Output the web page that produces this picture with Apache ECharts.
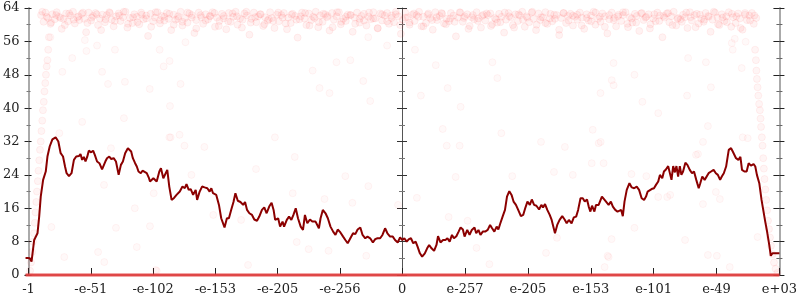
<!DOCTYPE html>
<html>
<head>
<meta charset="utf-8">
<script src="https://cdn.jsdelivr.net/npm/echarts@6/dist/echarts.min.js"></script>
<style>html,body{margin:0;padding:0;background:#fff}#c{width:800px;height:300px}</style>
</head>
<body>
<div id="c"></div>
<script>
// ---- data ----
const xTickVals = [0, 0.995, 1.99, 2.985, 3.98, 4.975, 5.97, 6.975, 7.98, 8.985, 9.99, 10.995, 12];
const xTickLabels = ["-1", "-e-51", "-e-102", "-e-153", "-e-205", "-e-256", "0", "e-257", "e-205", "e-153", "e-101", "e-49", "e+03"];
const yTicks = [0, 8, 16, 24, 32, 40, 48, 56, 64];

const meanLine = [[-0.048,4.1],[-0.016,4.1],[0.02,4.0],[0.048,3.2],[0.09,8.4],[0.143,10.0],[0.17,14.0],[0.195,18.8],[0.233,22.8],[0.275,24.8],[0.302,28.4],[0.338,30.8],[0.381,32.5],[0.433,33.0],[0.476,32.0],[0.513,29.2],[0.551,28.4],[0.583,26.0],[0.608,24.4],[0.646,23.7],[0.687,24.4],[0.725,27.6],[0.762,28.4],[0.805,28.5],[0.83,29.0],[0.857,27.6],[0.884,28.3],[0.91,27.2],[0.937,28.3],[0.963,29.8],[1.0,29.4],[1.032,29.8],[1.059,28.8],[1.095,27.2],[1.132,26.8],[1.175,25.3],[1.202,25.1],[1.227,27.2],[1.254,28.0],[1.29,28.4],[1.322,27.8],[1.36,28.0],[1.397,27.2],[1.44,24.0],[1.476,26.4],[1.508,27.2],[1.544,29.2],[1.587,30.4],[1.614,30.8],[1.64,29.6],[1.667,28.0],[1.703,26.8],[1.73,26.0],[1.757,24.8],[1.794,24.4],[1.821,25.0],[1.852,24.6],[1.889,24.4],[1.925,23.2],[1.941,22.4],[1.995,23.2],[2.048,22.4],[2.09,24.8],[2.116,25.6],[2.154,23.2],[2.179,22.8],[2.217,25.2],[2.249,21.2],[2.286,18.0],[2.322,18.4],[2.365,19.2],[2.417,20.0],[2.46,21.2],[2.497,20.8],[2.524,21.8],[2.56,20.4],[2.592,20.6],[2.63,19.2],[2.671,20.4],[2.694,18.0],[2.735,20.0],[2.773,21.2],[2.814,21.0],[2.857,20.8],[2.894,20.0],[2.921,20.8],[2.948,19.6],[3.0,19.2],[3.043,16.8],[3.079,13.6],[3.106,13.2],[3.132,11.4],[3.17,13.6],[3.202,13.6],[3.238,15.6],[3.275,17.5],[3.306,19.6],[3.344,17.8],[3.386,17.5],[3.43,16.8],[3.46,17.5],[3.492,15.6],[3.529,14.8],[3.571,14.4],[3.608,13.3],[3.651,13.0],[3.687,14.0],[3.73,15.6],[3.767,16.2],[3.805,14.8],[3.846,16.4],[3.884,17.3],[3.916,15.6],[3.941,13.2],[3.989,13.6],[4.02,11.6],[4.059,12.8],[4.084,11.6],[4.127,13.2],[4.163,14.0],[4.2,13.2],[4.233,14.4],[4.27,16.0],[4.306,13.6],[4.349,11.6],[4.386,10.8],[4.417,14.4],[4.455,12.4],[4.497,13.3],[4.535,12.8],[4.587,12.8],[4.64,11.2],[4.667,13.6],[4.703,15.6],[4.746,14.8],[4.783,13.6],[4.825,11.6],[4.868,10.4],[4.905,9.6],[4.941,10.9],[4.984,10.2],[5.027,9.2],[5.063,8.4],[5.1,7.6],[5.143,8.8],[5.186,10.0],[5.222,9.8],[5.259,10.9],[5.302,11.4],[5.338,9.6],[5.381,8.8],[5.417,9.2],[5.46,8.8],[5.503,7.8],[5.54,8.6],[5.576,8.8],[5.619,8.8],[5.656,9.6],[5.698,11.2],[5.735,10.0],[5.778,9.2],[5.821,9.2],[5.857,8.4],[5.9,7.8],[5.937,9.0],[5.973,8.4],[6.005,8.8],[6.043,8.0],[6.079,8.6],[6.111,8.8],[6.148,7.6],[6.186,8.0],[6.217,6.8],[6.254,5.2],[6.29,4.4],[6.333,5.2],[6.37,6.4],[6.402,7.2],[6.44,6.4],[6.481,5.8],[6.519,7.2],[6.544,9.3],[6.583,7.8],[6.624,8.4],[6.662,8.4],[6.694,8.8],[6.73,8.0],[6.767,9.6],[6.798,8.8],[6.837,9.3],[6.873,10.4],[6.905,11.4],[6.941,10.9],[6.968,9.2],[7.011,10.8],[7.048,9.6],[7.084,10.8],[7.127,11.4],[7.154,10.0],[7.19,10.8],[7.222,9.6],[7.259,10.4],[7.297,10.4],[7.338,10.8],[7.376,12.0],[7.408,11.2],[7.444,10.4],[7.481,11.6],[7.508,10.9],[7.54,12.4],[7.576,14.0],[7.614,15.6],[7.646,18.8],[7.683,20.1],[7.719,19.2],[7.751,17.6],[7.789,16.8],[7.825,15.6],[7.868,14.1],[7.905,14.4],[7.937,16.0],[7.973,17.6],[8.011,16.8],[8.043,18.1],[8.079,16.8],[8.116,16.6],[8.159,15.7],[8.195,16.8],[8.222,16.2],[8.254,17.0],[8.29,15.6],[8.329,14.4],[8.36,13.2],[8.386,12.8],[8.413,10.0],[8.449,12.0],[8.487,13.2],[8.529,14.1],[8.567,13.3],[8.6,12.4],[8.635,13.2],[8.678,12.4],[8.714,13.8],[8.751,14.0],[8.783,15.6],[8.821,18.4],[8.857,18.4],[8.889,17.6],[8.925,18.1],[8.952,16.4],[8.979,15.2],[9.005,16.6],[9.043,15.2],[9.068,16.8],[9.111,16.8],[9.138,17.2],[9.163,18.8],[9.206,18.0],[9.233,18.4],[9.27,16.8],[9.306,17.6],[9.338,16.4],[9.376,15.6],[9.413,15.2],[9.44,14.8],[9.471,15.6],[9.497,14.1],[9.524,17.6],[9.56,20.4],[9.603,22.0],[9.64,21.0],[9.678,20.8],[9.719,21.2],[9.757,20.4],[9.798,18.4],[9.837,18.0],[9.868,18.8],[9.894,20.0],[9.921,19.8],[9.957,20.6],[9.995,20.8],[10.027,21.6],[10.063,22.4],[10.09,24.0],[10.127,23.2],[10.154,24.8],[10.186,25.3],[10.222,26.1],[10.249,26.4],[10.275,22.8],[10.302,26.1],[10.329,24.6],[10.354,26.1],[10.381,23.6],[10.408,26.1],[10.433,24.0],[10.46,24.8],[10.497,26.9],[10.529,26.4],[10.567,25.2],[10.603,24.4],[10.635,24.8],[10.671,22.8],[10.71,20.8],[10.735,22.0],[10.767,23.6],[10.805,22.8],[10.83,22.4],[10.868,24.4],[10.908,24.8],[10.948,25.2],[10.984,24.4],[11.016,24.0],[11.052,22.8],[11.079,23.6],[11.111,24.4],[11.148,26.0],[11.19,30.0],[11.227,30.4],[11.254,29.6],[11.281,30.0],[11.306,28.0],[11.344,27.6],[11.376,28.3],[11.402,25.2],[11.44,24.8],[11.476,24.8],[11.508,26.8],[11.544,26.2],[11.587,26.6],[11.614,26.0],[11.64,24.0],[11.678,22.0],[11.714,18.0],[11.741,15.6],[11.773,12.8],[11.798,10.8],[11.837,7.2],[11.862,4.6],[11.889,5.2],[11.941,5.2],[12.0,5.2]];

const topBand = [[0.20,62.3],[0.24,60.7],[0.27,62.9],[0.31,61.6],[0.35,60.2],[0.38,62.5],[0.42,61.3],[0.45,63.0],[0.49,61.9],[0.53,59.0],[0.56,61.4],[0.60,62.7],[0.63,60.8],[0.67,62.2],[0.71,63.1],[0.74,60.3],[0.78,61.8],[0.81,61.1],[0.85,62.6],[0.89,61.4],[0.92,58.2],[0.96,62.9],[1.00,61.0],[1.03,62.1],[1.07,62.8],[1.11,59.9],[1.14,61.5],[1.18,62.4],[1.22,60.6],[1.25,62.3],[1.29,63.0],[1.33,61.2],[1.36,59.6],[1.40,62.0],[1.44,62.7],[1.47,60.9],[1.51,61.8],[1.55,63.1],[1.58,59.3],[1.62,61.6],[1.66,60.4],[1.69,62.5],[1.73,61.9],[1.77,60.1],[1.80,62.9],[1.84,61.3],[1.88,62.2],[1.91,57.3],[1.95,62.6],[1.99,60.8],[2.02,61.7],[2.06,63.0],[2.10,60.3],[2.13,62.1],[2.17,61.0],[2.21,62.8],[2.24,61.4],[2.28,58.7],[2.32,62.4],[2.35,61.2],[2.39,62.0],[2.43,63.1],[2.46,59.8],[2.50,61.6],[2.54,60.5],[2.57,62.7],[2.61,62.3],[2.65,58.0],[2.68,61.1],[2.72,62.9],[2.76,61.8],[2.79,60.2],[2.83,62.5],[2.87,61.3],[2.90,62.0],[2.94,63.0],[2.98,59.5],[3.01,61.7],[3.05,60.9],[3.09,62.6],[3.12,62.1],[3.16,58.9],[3.20,62.8],[3.23,60.7],[3.27,61.9],[3.31,63.1],[3.34,60.0],[3.38,61.5],[3.42,61.2],[3.45,62.7],[3.49,62.2],[3.53,57.6],[3.56,61.4],[3.60,62.9],[3.64,60.6],[3.67,62.0],[3.71,62.5],[3.75,59.7],[3.78,61.8],[3.82,61.0],[3.86,63.0],[3.89,61.6],[3.93,59.2],[3.97,62.4],[4.00,60.8],[4.04,62.3],[4.08,62.8],[4.11,60.3],[4.15,61.7],[4.19,60.4],[4.22,62.6],[4.26,62.1],[4.30,56.9],[4.33,61.3],[4.37,62.9],[4.41,61.5],[4.44,59.9],[4.48,62.7],[4.52,61.1],[4.55,61.9],[4.59,63.1],[4.63,59.4],[4.66,62.2],[4.70,60.7],[4.74,62.5],[4.77,61.8],[4.81,58.6],[4.85,62.8],[4.88,61.2],[4.92,62.0],[4.96,63.0],[4.99,60.1],[5.03,61.4],[5.07,60.9],[5.10,62.4],[5.14,62.3],[5.18,58.3],[5.21,61.7],[5.25,62.9],[5.29,60.5],[5.32,62.1],[5.36,62.6],[5.40,59.8],[5.43,61.9],[5.47,61.3],[5.51,63.0],[5.54,61.5],[5.58,59.1],[5.62,62.7],[5.65,61.0],[5.69,62.2],[5.73,62.8],[5.76,60.2],[5.80,61.6],[5.84,60.6],[5.87,62.5],[5.91,62.0],[5.95,57.8],[5.98,61.2],[6.02,62.9],[6.06,61.8],[6.09,60.0],[6.13,62.4],[6.17,60.9],[6.20,62.3],[6.24,63.1],[6.28,59.6],[6.31,61.9],[6.35,60.4],[6.39,62.7],[6.42,61.6],[6.46,58.8],[6.50,63.0],[6.53,61.1],[6.57,62.1],[6.61,62.6],[6.64,60.3],[6.68,61.4],[6.72,60.8],[6.75,62.8],[6.79,62.2],[6.83,57.2],[6.86,61.7],[6.90,62.9],[6.94,60.7],[6.97,62.0],[7.01,62.5],[7.05,59.7],[7.08,61.8],[7.12,61.3],[7.16,63.0],[7.19,61.5],[7.23,59.3],[7.27,62.4],[7.30,61.0],[7.34,62.3],[7.38,62.7],[7.41,60.1],[7.45,61.6],[7.49,60.5],[7.52,62.6],[7.56,61.9],[7.60,58.1],[7.63,61.2],[7.67,62.8],[7.71,61.7],[7.74,59.9],[7.78,62.5],[7.82,60.9],[7.85,62.2],[7.89,63.1],[7.93,59.5],[7.96,62.0],[8.00,60.6],[8.04,62.9],[8.07,61.4],[8.11,58.7],[8.15,62.7],[8.18,61.1],[8.22,61.8],[8.26,63.0],[8.29,60.2],[8.33,61.5],[8.37,60.8],[8.40,62.4],[8.44,62.3],[8.48,57.5],[8.51,61.6],[8.55,62.8],[8.59,60.4],[8.62,62.1],[8.66,62.6],[8.70,59.8],[8.73,61.9],[8.77,61.2],[8.81,62.9],[8.84,61.7],[8.88,59.0],[8.92,62.5],[8.95,61.0],[8.99,62.2],[9.03,63.1],[9.06,60.0],[9.10,61.4],[9.14,60.7],[9.17,62.7],[9.21,62.0],[9.25,57.9],[9.28,61.3],[9.32,62.9],[9.36,61.6],[9.39,59.6],[9.43,62.4],[9.47,60.9],[9.50,62.3],[9.54,63.0],[9.58,59.4],[9.61,61.8],[9.65,60.5],[9.69,62.6],[9.72,62.1],[9.76,58.5],[9.80,62.8],[9.83,61.1],[9.87,61.9],[9.91,62.5],[9.94,60.1],[9.98,61.5],[10.02,60.8],[10.05,62.9],[10.09,62.2],[10.13,57.0],[10.16,61.7],[10.20,62.7],[10.24,60.6],[10.27,62.0],[10.31,63.1],[10.35,59.8],[10.38,61.6],[10.42,61.3],[10.46,62.4],[10.49,61.8],[10.53,59.2],[10.57,63.0],[10.60,61.0],[10.64,62.3],[10.68,62.6],[10.71,60.3],[10.75,61.4],[10.79,60.7],[10.82,62.8],[10.86,62.1],[10.90,58.3],[10.93,61.2],[10.97,62.9],[11.01,61.7],[11.04,59.9],[11.08,62.5],[11.12,60.9],[11.15,62.0],[11.19,63.0],[11.23,59.5],[11.26,61.8],[11.30,60.4],[11.34,62.7],[11.37,61.5],[11.41,58.8],[11.45,62.4],[11.48,61.1],[11.52,62.2],[11.56,62.8],[11.59,60.2],[11.63,61.6]];

const topBand2 = [[0.22,63.1],[0.29,61.9],[0.36,60.5],[0.44,62.3],[0.51,61.6],[0.58,59.9],[0.65,62.7],[0.72,61.2],[0.80,62.0],[0.87,62.9],[0.94,60.4],[1.01,61.7],[1.09,62.5],[1.16,58.7],[1.23,61.3],[1.30,62.8],[1.38,60.9],[1.45,62.2],[1.52,63.1],[1.59,60.2],[1.67,61.8],[1.74,60.6],[1.81,62.4],[1.88,61.5],[1.96,59.5],[2.03,63.0],[2.10,61.1],[2.17,61.9],[2.25,62.6],[2.32,60.0],[2.39,61.4],[2.46,60.7],[2.54,62.9],[2.61,61.7],[2.68,59.1],[2.75,62.3],[2.83,61.0],[2.90,62.1],[2.97,62.8],[3.04,59.7],[3.12,61.5],[3.19,60.8],[3.26,62.7],[3.33,62.0],[3.41,59.3],[3.48,63.1],[3.55,60.5],[3.62,61.8],[3.70,62.5],[3.77,60.1],[3.84,61.3],[3.91,60.9],[3.99,62.9],[4.06,61.7],[4.13,58.9],[4.20,62.4],[4.28,61.2],[4.35,62.0],[4.42,62.8],[4.49,59.8],[4.57,61.6],[4.64,60.6],[4.71,62.6],[4.78,62.1],[4.86,59.4],[4.93,63.0],[5.00,60.7],[5.07,61.9],[5.15,62.3],[5.22,60.2],[5.29,61.4],[5.36,61.0],[5.44,62.9],[5.51,61.5],[5.58,59.2],[5.65,62.5],[5.73,60.8],[5.80,62.2],[5.87,63.1],[5.94,59.9],[6.02,61.7],[6.09,60.5],[6.16,62.7],[6.23,61.9],[6.31,59.6],[6.38,62.4],[6.45,61.1],[6.52,61.8],[6.60,62.8],[6.67,60.1],[6.74,61.5],[6.81,60.7],[6.89,63.0],[6.96,61.6],[7.03,59.0],[7.10,62.3],[7.18,60.9],[7.25,62.1],[7.32,62.7],[7.39,59.7],[7.47,61.3],[7.54,60.6],[7.61,62.9],[7.68,62.0],[7.76,59.3],[7.83,62.5],[7.90,61.2],[7.97,61.7],[8.05,63.1],[8.12,60.0],[8.19,61.8],[8.26,60.4],[8.34,62.6],[8.41,61.4],[8.48,58.8],[8.55,62.8],[8.63,61.0],[8.70,62.2],[8.77,62.4],[8.84,59.8],[8.92,61.6],[8.99,60.8],[9.06,62.9],[9.13,61.9],[9.21,59.5],[9.28,62.3],[9.35,61.1],[9.42,62.0],[9.50,63.0],[9.57,60.2],[9.64,61.5],[9.71,60.5],[9.79,62.7],[9.86,61.7],[9.93,59.1],[10.00,62.5],[10.08,60.9],[10.15,62.1],[10.22,62.8],[10.29,59.9],[10.37,61.4],[10.44,60.7],[10.51,62.9],[10.58,61.8],[10.66,59.4],[10.73,62.4],[10.80,61.2],[10.87,61.9],[10.95,63.1],[11.02,60.1],[11.09,61.7],[11.16,60.6],[11.24,62.6],[11.31,62.0],[11.38,59.2],[11.45,62.8],[11.53,61.0],[11.60,62.2]];

const sparsePoints = [[0.349,57],[0.54,48.7],[0.698,52],[0.9,56.3],[0.925,53.7],[1.095,55],[1.175,48.7],[1.27,45.8],[1.381,54],[1.54,46.3],[1.524,37.6],[1.937,44.6],[2.095,54],[2.159,50],[2.254,51.3],[2.26,40.5],[2.429,45.8],[2.508,55.8],[2.25,33],[2.413,33.6],[2.492,31],[0.857,36.7],[1.317,30.4],[0.492,34],[0.365,11.5],[0.571,4.3],[1.111,5.5],[1.397,11.3],[1.73,6.7],[1.698,16],[1.206,21.6],[2.0,19.6],[1.94,11.7],[2.603,24],[1.21,3.1],[2.048,1],[5.73,55],[6.175,54],[5.143,51.5],[4.921,51],[4.54,49],[5.349,46.5],[4.651,44.8],[4.81,43.6],[5.46,41.7],[6.508,50.3],[6.698,44.8],[6.27,43],[6.905,40.3],[7.413,51],[7.492,47.2],[6.619,35],[6.683,31],[6.889,31],[5.429,57],[5.063,23.7],[5.43,21.3],[4.73,18.2],[5.175,17.3],[5.905,16.8],[6.206,18.5],[4.476,6.2],[4.794,5.8],[5.397,4.6],[6.825,23.5],[7.016,13],[7.159,6.5],[7.365,2.6],[6.714,13.9],[7.73,23.7],[7.556,34],[8.19,31.9],[8.571,30.7],[9.143,31.9],[9.0,26.8],[9.19,26.8],[8.397,24.7],[8.698,24],[9.635,24.2],[9.873,23.7],[9.683,11.3],[9.317,8.6],[8.27,5.3],[9.254,4.6],[8.444,8.9],[9.206,1.9],[9.016,34.8],[9.349,50.8],[9.32,46.7],[9.35,45.5],[9.14,43.6],[9.683,48],[9.81,41.5],[10.063,38.8],[10.54,52],[10.825,51],[10.905,45],[10.524,43],[10.857,35.7],[10.778,31.9],[11.397,49.6],[11.492,32.8],[11.238,55.6],[11.254,54],[11.286,56.6],[11.46,55.9],[9.111,31.6],[10.667,28.8],[10.206,18.7],[10.063,18.7],[10.984,19.9],[11.048,18.2],[10.778,17],[10.492,8.4],[10.857,4.8],[11.651,9.1],[11.206,1.9],[11.413,33],[10.254,19.2],[9.27,4.3],[11.0,4.6],[10.698,29],[2.27,33],[2.81,30.7],[3.635,25.4],[2.952,14.4],[3.397,13.2],[3.508,2.4],[2.032,1.2],[3.937,33],[4.254,28.3],[4.222,19.6],[4.286,7.9]];

const leftRamp = [[0.024,1],[0.04,3],[0.056,5.5],[0.071,8],[0.087,10],[0.1,12.5],[0.111,15],[0.124,17.5],[0.135,20],[0.148,22.5],[0.159,25],[0.171,27.5],[0.183,30],[0.195,32],[0.206,34.5],[0.219,37],[0.23,39.5],[0.243,41.5],[0.254,44],[0.267,46],[0.278,48],[0.29,50],[0.302,51.5],[0.314,54],[0.325,57]];

const rightRamp = [[11.611,54],[11.624,51.5],[11.632,49],[11.64,47],[11.651,45],[11.662,43],[11.675,41],[11.687,39.5],[11.698,37.5],[11.706,35.5],[11.719,33],[11.73,31],[11.741,28],[11.751,25.5],[11.762,23],[11.775,20.5],[11.789,18],[11.802,15.5],[11.817,13],[11.833,11],[11.849,9],[11.865,7],[11.889,5],[11.913,3],[11.937,1.5],[11.968,0.5]];

const zeroX = [-0.048, 12];
const zeroY = [0, 0];

// ---- chart ----
const FONT = 'DejaVu Serif';
const XMIN = -0.048, XMAX = 12;
const chart = echarts.init(document.getElementById('c'), null, {renderer: 'canvas'});

function yAx(grid, pos, opts) {
  return Object.assign({
    type: 'value', gridIndex: grid, position: pos, min: yTicks[0], max: yTicks[yTicks.length - 1], interval: 8,
    splitLine: {show: false}, axisLabel: {show: false}
  }, opts);
}

function dots(data, fillA, strokeA, z) {
  return {
    type: 'scatter', xAxisIndex: 0, yAxisIndex: 0, clip: false, z: z,
    symbol: 'circle', symbolSize: 7, silent: true,
    itemStyle: {color: 'rgba(255,50,50,' + fillA + ')', borderColor: 'rgba(255,50,50,' + strokeA + ')', borderWidth: 1},
    data: data
  };
}

const option = {
  animation: false,
  backgroundColor: '#fff',
  grid: [
    {left: 23, right: 18, top: 8, bottom: 25},
    {left: 402, right: 18, top: 8, bottom: 25}
  ],
  xAxis: [
    {
      type: 'value', gridIndex: 0, position: 'bottom', min: XMIN, max: XMAX,
      axisLine: {show: true, lineStyle: {color: '#aaa', width: 1}},
      axisTick: {show: true, inside: true, length: 7, customValues: xTickVals, lineStyle: {color: '#222', width: 1}},
      axisLabel: {
        show: true, customValues: xTickVals, margin: 8,
        fontFamily: FONT, fontSize: 13, color: '#222',
        formatter: function (v) {
          const i = xTickVals.findIndex(t => Math.abs(t - v) < 1e-6);
          return i >= 0 ? xTickLabels[i] : '';
        }
      },
      splitLine: {show: false}
    },
    {
      type: 'value', gridIndex: 0, position: 'top', min: XMIN, max: XMAX,
      axisLine: {show: true, lineStyle: {color: '#aaa', width: 2}},
      axisTick: {show: false}, axisLabel: {show: false}, splitLine: {show: false}
    },
    {type: 'value', gridIndex: 1, min: 0, max: 1, show: false}
  ],
  yAxis: [
    yAx(0, 'left', {
      axisLine: {show: true, lineStyle: {color: '#aaa', width: 2}},
      axisTick: {show: true, length: 4, lineStyle: {color: '#222'}},
      minorTick: {show: true, splitNumber: 2, length: 2, lineStyle: {color: '#777'}},
      axisLabel: {show: true, margin: 6, fontFamily: FONT, fontSize: 13, color: '#222'}
    }),
    yAx(0, 'left', {
      axisLine: {show: false},
      axisTick: {show: true, inside: true, length: 3, lineStyle: {color: '#222'}},
      minorTick: {show: true, splitNumber: 2, length: 2, lineStyle: {color: '#777'}}
    }),
    yAx(0, 'right', {
      axisLine: {show: true, lineStyle: {color: '#aaa', width: 2}},
      axisTick: {show: true, length: 5, lineStyle: {color: '#222'}},
      minorTick: {show: true, splitNumber: 2, length: 3, lineStyle: {color: '#666'}}
    }),
    yAx(0, 'right', {
      axisLine: {show: false},
      axisTick: {show: true, inside: true, length: 6, lineStyle: {color: '#222'}},
      minorTick: {show: true, splitNumber: 2, length: 3, lineStyle: {color: '#666'}}
    }),
    yAx(1, 'left', {
      axisLine: {show: true, lineStyle: {color: '#555', width: 1}},
      axisTick: {show: true, length: 5, lineStyle: {color: '#333'}},
      minorTick: {show: true, splitNumber: 2, length: 3, lineStyle: {color: '#777'}}
    }),
    yAx(1, 'left', {
      axisLine: {show: false},
      axisTick: {show: true, inside: true, length: 5, lineStyle: {color: '#333'}},
      minorTick: {show: true, splitNumber: 2, length: 3, lineStyle: {color: '#777'}}
    })
  ],
  series: [
    dots(topBand, 0.08, 0.08, 2),
    dots(topBand2, 0.08, 0.08, 2),
    dots(sparsePoints, 0.035, 0.06, 2),
    dots(leftRamp.concat(rightRamp), 0.06, 0.08, 2),
    {
      type: 'line', xAxisIndex: 0, yAxisIndex: 0, clip: false, z: 3,
      showSymbol: false, symbol: 'none', silent: true,
      lineStyle: {color: 'rgba(228,60,60,0.9)', width: 3},
      data: zeroX.map((x, i) => [x, zeroY[i]])
    },
    {
      type: 'line', xAxisIndex: 0, yAxisIndex: 0, clip: false, z: 4,
      showSymbol: false, symbol: 'none', silent: true,
      lineStyle: {color: '#8b0000', width: 2},
      data: meanLine
    }
  ]
};
chart.setOption(option);
</script>
</body>
</html>
